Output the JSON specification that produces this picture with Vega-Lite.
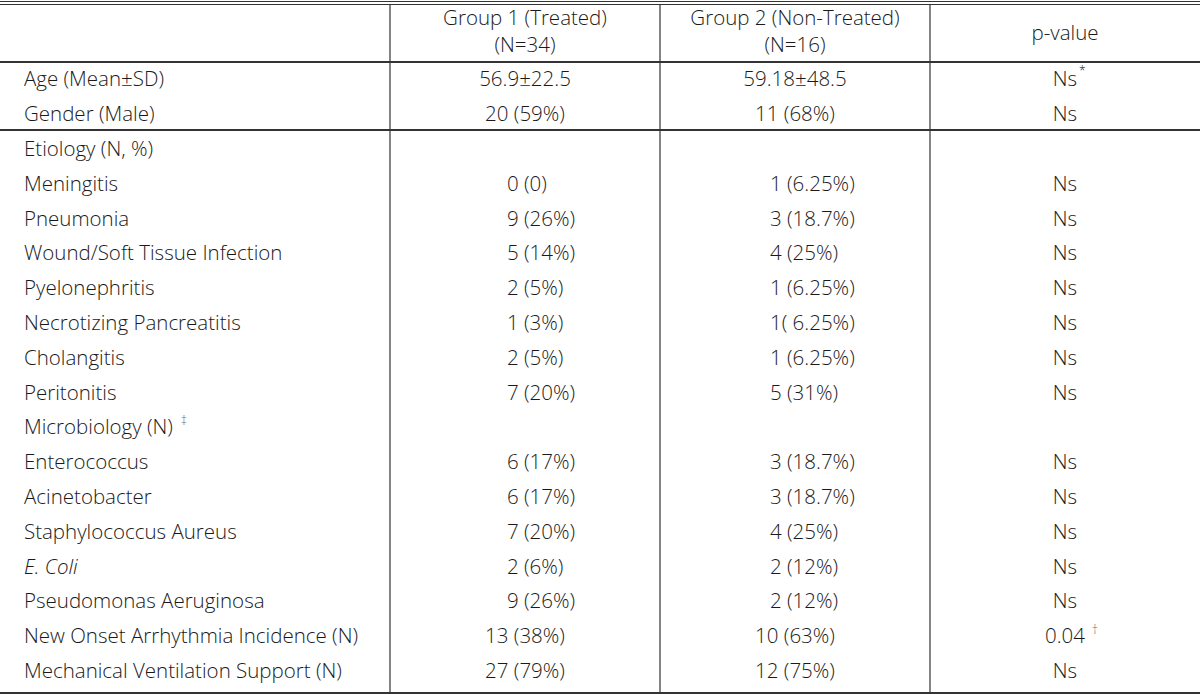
{
  "$schema": "https://vega.github.io/schema/vega-lite/v6.json",
  "width": 1200,
  "height": 695,
  "padding": 0,
  "autosize": {"type": "none"},
  "background": "white",
  "config": {"view": {"stroke": null}, "text": {"font": "Open Sans", "fontSize": 20.5, "fontWeight": 300, "color": "#1a1a1a", "baseline": "middle"}},
  "datasets": {
    "rows": [
      {"r": 0, "label": "Age (Mean±SD)", "g1": "56.9±22.5", "g2": "59.18±48.5", "p": "Ns", "sec": "summary"},
      {"r": 1, "label": "Gender (Male)", "g1": "20 (59%)", "g2": "11 (68%)", "p": "Ns", "sec": "summary"},
      {"r": 2, "label": "Etiology (N,  %)", "g1": "", "g2": "", "p": "", "sec": "etiology"},
      {"r": 3, "label": "Meningitis", "g1": "0 (0)", "g2": "1 (6.25%)", "p": "Ns", "sec": "etiology"},
      {"r": 4, "label": "Pneumonia", "g1": "9 (26%)", "g2": "3 (18.7%)", "p": "Ns", "sec": "etiology"},
      {"r": 5, "label": "Wound/Soft  Tissue  Infection", "g1": "5 (14%)", "g2": "4 (25%)", "p": "Ns", "sec": "etiology"},
      {"r": 6, "label": "Pyelonephritis", "g1": "2 (5%)", "g2": "1 (6.25%)", "p": "Ns", "sec": "etiology"},
      {"r": 7, "label": "Necrotizing  Pancreatitis", "g1": "1 (3%)", "g2": "1( 6.25%)", "p": "Ns", "sec": "etiology"},
      {"r": 8, "label": "Cholangitis", "g1": "2 (5%)", "g2": "1 (6.25%)", "p": "Ns", "sec": "etiology"},
      {"r": 9, "label": "Peritonitis", "g1": "7 (20%)", "g2": "5 (31%)", "p": "Ns", "sec": "etiology"},
      {"r": 10, "label": "Microbiology (N)", "g1": "", "g2": "", "p": "", "sec": "micro"},
      {"r": 11, "label": "Enterococcus", "g1": "6 (17%)", "g2": "3 (18.7%)", "p": "Ns", "sec": "micro"},
      {"r": 12, "label": "Acinetobacter", "g1": "6 (17%)", "g2": "3 (18.7%)", "p": "Ns", "sec": "micro"},
      {"r": 13, "label": "Staphylococcus  Aureus", "g1": "7 (20%)", "g2": "4 (25%)", "p": "Ns", "sec": "micro"},
      {"r": 14, "label": "E.  Coli", "g1": "2 (6%)", "g2": "2 (12%)", "p": "Ns", "sec": "micro"},
      {"r": 15, "label": "Pseudomonas  Aeruginosa", "g1": "9 (26%)", "g2": "2 (12%)", "p": "Ns", "sec": "micro"},
      {"r": 16, "label": "New  Onset  Arrhythmia  Incidence (N)", "g1": "13 (38%)", "g2": "10 (63%)", "p": "0.04", "sec": "outcome"},
      {"r": 17, "label": "Mechanical  Ventilation  Support (N)", "g1": "27 (79%)", "g2": "12 (75%)", "p": "Ns", "sec": "outcome"}
    ],
    "header": [
      {"r": -1.77, "c": 1, "t": "Group  1 (Treated)\n(N=34)"},
      {"r": -1.77, "c": 2, "t": "Group  2 (Non-Treated)\n(N=16)"},
      {"r": -1.34, "c": 3, "t": "p-value"}
    ],
    "marks": [
      {"r": 0, "c": 3, "t": "*"},
      {"r": 10, "c": 0, "t": "‡"},
      {"r": 16, "c": 3, "t": "†"}
    ],
    "hlines": [
      {"y": -2.267, "w": "thin"},
      {"y": -2.181, "w": "thin"},
      {"y": -0.529, "w": "thick"},
      {"y": 1.425, "w": "thick"},
      {"y": 17.6, "w": "thick"}
    ],
    "vlines": [
      {"x": 0.5, "y1": -2.181, "y2": 17.6},
      {"x": 1.5, "y1": -2.181, "y2": 17.6},
      {"x": 2.5, "y1": -2.181, "y2": 17.6}
    ]
  },
  "layer": [
    {
      "data": {"name": "hlines"},
      "transform": [{"filter": "datum.w == 'thin'"}],
      "mark": {"type": "rule", "color": "#333", "strokeWidth": 1.2},
      "encoding": {"y": {"field": "y", "type": "quantitative", "scale": {"domain": [-2.31, 17.66], "range": [0, 695], "nice": false, "zero": false}, "axis": null}}
    },
    {
      "data": {"name": "hlines"},
      "transform": [{"filter": "datum.w == 'thick'"}],
      "mark": {"type": "rule", "color": "#333", "strokeWidth": 2},
      "encoding": {"y": {"field": "y", "type": "quantitative", "axis": null}}
    },
    {
      "data": {"name": "vlines"},
      "mark": {"type": "rule", "color": "#333", "strokeWidth": 1.2},
      "encoding": {
        "x": {"field": "x", "type": "quantitative", "scale": {"domain": [-0.9444, 3.5], "range": [0, 1200], "nice": false, "zero": false}, "axis": null},
        "y": {"field": "y1", "type": "quantitative", "axis": null},
        "y2": {"field": "y2"}
      }
    },
    {
      "data": {"name": "header"},
      "mark": {"type": "text", "align": "center", "lineBreak": "\n", "lineHeight": 27},
      "encoding": {
        "x": {"field": "c", "type": "quantitative", "axis": null},
        "y": {"field": "r", "type": "quantitative", "axis": null},
        "text": {"field": "t"}
      }
    },
    {
      "data": {"name": "rows"},
      "transform": [{"filter": "datum.label != 'E.  Coli'"}],
      "mark": {"type": "text", "align": "left"},
      "encoding": {
        "x": {"datum": -0.8556, "type": "quantitative", "axis": null},
        "y": {"field": "r", "type": "quantitative", "axis": null},
        "text": {"field": "label"}
      }
    },
    {
      "data": {"name": "rows"},
      "transform": [{"filter": "datum.label == 'E.  Coli'"}],
      "mark": {"type": "text", "align": "left", "fontStyle": "italic"},
      "encoding": {
        "x": {"datum": -0.8556, "type": "quantitative", "axis": null},
        "y": {"field": "r", "type": "quantitative", "axis": null},
        "text": {"field": "label"}
      }
    },
    {
      "data": {"name": "rows"},
      "transform": [{"filter": "datum.sec == 'summary' || datum.sec == 'outcome'"}],
      "mark": {"type": "text", "align": "center"},
      "encoding": {
        "x": {"datum": 1, "type": "quantitative", "axis": null},
        "y": {"field": "r", "type": "quantitative", "axis": null},
        "text": {"field": "g1"}
      }
    },
    {
      "data": {"name": "rows"},
      "transform": [{"filter": "datum.sec == 'etiology' || datum.sec == 'micro'"}],
      "mark": {"type": "text", "align": "left", "dx": -18},
      "encoding": {
        "x": {"datum": 1, "type": "quantitative", "axis": null},
        "y": {"field": "r", "type": "quantitative", "axis": null},
        "text": {"field": "g1"}
      }
    },
    {
      "data": {"name": "rows"},
      "transform": [{"filter": "datum.sec == 'summary' || datum.sec == 'outcome'"}],
      "mark": {"type": "text", "align": "center"},
      "encoding": {
        "x": {"datum": 2, "type": "quantitative", "axis": null},
        "y": {"field": "r", "type": "quantitative", "axis": null},
        "text": {"field": "g2"}
      }
    },
    {
      "data": {"name": "rows"},
      "transform": [{"filter": "datum.sec == 'etiology' || datum.sec == 'micro'"}],
      "mark": {"type": "text", "align": "left", "dx": -25},
      "encoding": {
        "x": {"datum": 2, "type": "quantitative", "axis": null},
        "y": {"field": "r", "type": "quantitative", "axis": null},
        "text": {"field": "g2"}
      }
    },
    {
      "data": {"name": "rows"},
      "mark": {"type": "text", "align": "center"},
      "encoding": {
        "x": {"datum": 3, "type": "quantitative", "axis": null},
        "y": {"field": "r", "type": "quantitative", "axis": null},
        "text": {"field": "p"}
      }
    },
    {
      "data": {"name": "marks"},
      "transform": [{"filter": "datum.t == '*'"}],
      "mark": {"type": "text", "align": "left", "fontSize": 12, "dx": 14, "dy": -9},
      "encoding": {
        "x": {"field": "c", "type": "quantitative", "axis": null},
        "y": {"field": "r", "type": "quantitative", "axis": null},
        "text": {"field": "t"}
      }
    },
    {
      "data": {"name": "marks"},
      "transform": [{"filter": "datum.t == '‡'"}],
      "mark": {"type": "text", "align": "left", "fontSize": 12, "dx": 157, "dy": -7, "color": "#666"},
      "encoding": {
        "x": {"datum": -0.8556, "type": "quantitative", "axis": null},
        "y": {"field": "r", "type": "quantitative", "axis": null},
        "text": {"field": "t"}
      }
    },
    {
      "data": {"name": "marks"},
      "transform": [{"filter": "datum.t == '†'"}],
      "mark": {"type": "text", "align": "left", "fontSize": 12, "dx": 27, "dy": -7, "color": "#666"},
      "encoding": {
        "x": {"field": "c", "type": "quantitative", "axis": null},
        "y": {"field": "r", "type": "quantitative", "axis": null},
        "text": {"field": "t"}
      }
    }
  ]
}
